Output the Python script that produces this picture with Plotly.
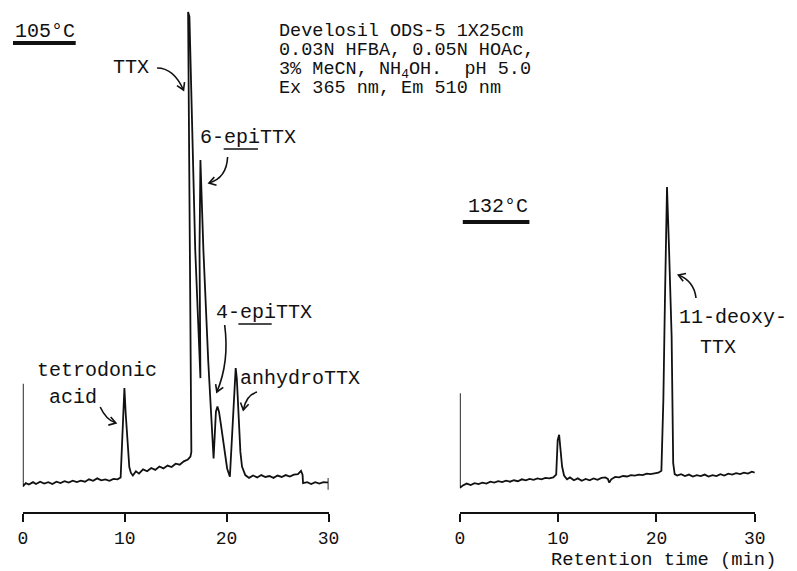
import math
import plotly.graph_objects as go

W, H = 797, 571
OFF = 8  # page body margin compensation (px)

# ---------------- data ----------------
# left run, 105 °C : retention time (min) and detector response (arb. units)
t_105 = [0.0, 0.0, 0.3, 0.6, 1.0, 1.3, 1.7, 2.1, 2.5, 2.9, 3.3, 3.7, 4.1, 4.5, 4.9, 5.3,
         5.7, 6.1, 6.5, 6.9, 7.3, 7.7, 8.1, 8.5, 8.9, 9.3, 9.6, 9.88, 9.97, 10.1, 10.45,
         10.6, 10.8, 11.1, 11.4, 11.8, 12.2, 12.6, 13.0, 13.4, 13.8, 14.2, 14.6, 15.0,
         15.4, 15.8, 16.2, 16.45, 16.54, 16.22, 16.35, 16.92, 17.43, 17.34, 17.43, 17.72,
         18.2, 18.72, 18.8, 18.95, 19.1, 19.25, 19.42, 19.74, 20.05, 20.32, 20.5, 20.7,
         20.89, 21.0, 21.18, 21.35, 21.51, 21.83, 22.2, 22.6, 23.0, 23.4, 23.8, 24.2,
         24.6, 25.0, 25.4, 25.8, 26.2, 26.6, 27.0, 27.3, 27.45, 27.5, 27.9, 28.3, 28.7,
         29.1, 29.5, 30.0, 30.0, 30.0]
s_105 = [21.4, -0.3, 0.4, 0.1, 0.6, 0.2, 0.7, 0.3, 0.6, 0.2, 0.7, 0.4, 0.8, 0.5, 0.9, 0.6,
         0.9, 0.7, 1.2, 0.9, 1.4, 1.0, 1.2, 0.9, 1.3, 1.2, 1.6, 19.0, 20.5, 15.0, 3.8,
         2.6, 2.0, 2.9, 2.4, 3.3, 2.9, 3.6, 3.2, 3.9, 3.5, 4.1, 3.8, 4.5,
         4.3, 5.0, 5.4, 6.0, 7.0, 100.0, 99.0, 49.7, 22.6, 49.7, 68.7, 49.7,
         26.0, 5.6, 9.5, 15.5, 16.6, 15.5, 13.1, 8.1, 3.5, 1.75, 9.0, 20.0,
         24.7, 22.5, 14.4, 7.0, 3.9, 2.1, 1.5, 2.0, 1.6, 2.1, 1.7, 1.9,
         1.5, 2.0, 1.7, 2.1, 1.8, 2.2, 2.3, 3.0, 2.2, 0.4, 0.6, 0.2, 0.6,
         0.3, 0.6, 0.5, 1.5, -1.0]

# right run, 132 °C
t_132 = [0.0, 0.0, 0.3, 0.7, 1.1, 1.5, 1.9, 2.3, 2.7, 3.1, 3.5, 3.9, 4.3, 4.7, 5.1, 5.5,
         5.9, 6.3, 6.7, 7.1, 7.5, 7.9, 8.3, 8.7, 9.1, 9.5, 9.8, 9.95, 10.1, 10.25, 10.4,
         10.6, 10.9, 11.2, 11.6, 12.0, 12.4, 12.8, 13.2, 13.6, 14.0, 14.4, 14.8, 15.05,
         15.2, 15.4, 15.8, 16.2, 16.6, 17.0, 17.4, 17.8, 18.2, 18.6, 19.0, 19.4, 19.8,
         20.2, 20.5, 20.7, 20.86, 21.07, 21.28, 21.54, 21.7, 21.85, 22.1, 22.5, 22.9,
         23.3, 23.7, 24.1, 24.5, 24.9, 25.3, 25.7, 26.1, 26.5, 26.9, 27.3, 27.7, 28.1,
         28.5, 28.9, 29.3, 29.7, 30.0]
s_132 = [19.4, -0.6, -0.1, 0.3, 0.0, 0.4, 0.2, 0.5, 0.3, 0.7, 0.5, 0.8, 0.6, 0.9, 0.7, 1.0,
         0.8, 1.2, 1.0, 1.3, 1.1, 1.4, 1.2, 1.5, 1.4, 1.6, 2.2, 9.5, 10.6, 7.5, 3.9,
         2.0, 1.2, 1.6, 1.0, 1.4, 0.9, 1.3, 1.0, 1.4, 1.1, 1.5, 1.6, 1.3,
         0.5, 1.2, 1.7, 1.6, 1.9, 1.8, 2.1, 2.0, 2.2, 2.1, 2.4, 2.3, 2.5,
         2.6, 3.0, 18.0, 39.0, 63.0, 49.7, 31.4, 4.6, 2.3, 2.0, 2.3, 1.9,
         2.2, 1.8, 2.1, 1.9, 2.2, 1.8, 2.1, 1.9, 2.3, 2.0, 2.4, 2.2, 2.5,
         2.3, 2.6, 2.4, 2.8, 2.6]

x_ticks = [0, 10, 20, 30]
tick_text = ["0", "10", "20", "30"]
x_title = "Retention time (min)"
conditions = ["Develosil ODS-5 1X25cm",
              "0.03N HFBA, 0.05N HOAc,",
              "3% MeCN, NH<sub>4</sub>OH.  pH 5.0",
              "Ex 365 nm, Em 510 nm"]

# ---------------- helpers (target pixel -> paper) ----------------
def px(x):
    return (x - OFF) / W

def py(y):
    return 1 - (y - OFF) / H

FONT = "Liberation Mono, Courier New, monospace"
INK = "#111111"

fig = go.Figure()
fig.add_trace(go.Scatter(x=t_105, y=s_105, mode="lines", xaxis="x", yaxis="y",
                         line=dict(color=INK, width=1.8), hoverinfo="skip", showlegend=False))
fig.add_trace(go.Scatter(x=t_132, y=s_132, mode="lines", xaxis="x2", yaxis="y2",
                         line=dict(color=INK, width=1.8), hoverinfo="skip", showlegend=False))

# vertical geometry: baseline at y=485 px, 0.2114 units per px
scale = 0.2114
axis_px = 512
top_px = OFF
y_lo = (485 - axis_px) * scale
y_hi = (485 - top_px) * scale
ydom = [py(axis_px), py(top_px)]

xcommon = dict(range=[0, 30], tickvals=x_ticks, ticktext=tick_text, showgrid=False,
               zeroline=False, showline=True, linecolor=INK, linewidth=2,
               ticks="outside", ticklen=8, tickwidth=1.5, tickcolor=INK,
               tickfont=dict(family=FONT, size=18, color=INK), fixedrange=True)
ycommon = dict(range=[y_lo, y_hi], domain=ydom, visible=False, fixedrange=True)

fig.update_layout(
    width=W, height=H, margin=dict(l=0, r=0, t=0, b=0),
    paper_bgcolor="white", plot_bgcolor="white",
    xaxis=dict(domain=[px(18), px(330)], anchor="y", **xcommon),
    xaxis2=dict(domain=[px(464), px(765)], anchor="y2", **xcommon),
    yaxis=dict(anchor="x", **ycommon),
    yaxis2=dict(anchor="x2", **ycommon),
    showlegend=False,
)

annots = []
def label(text, x, y, size=20):
    annots.append(dict(text=text, x=px(x), y=py(y), xref="paper", yref="paper",
                       xanchor="left", yanchor="middle", showarrow=False,
                       font=dict(family=FONT, size=size, color=INK), borderpad=0))

label("105°C", 9, 32)
label("TTX", 109, 67)
label("6-epiTTX", 198, 137)
label("4-epiTTX", 214, 312)
label("tetrodonic", 31, 370)
label("acid", 44, 397)
label("anhydroTTX", 239, 378)
label("132°C", 471, 207)
label("11-deoxy-", 687, 317)
label("TTX", 708, 347)
for i, line in enumerate(conditions):
    label(line, 278, 32 + 19 * i, 18.5)
label(x_title, 556, 560, 18.8)

shapes = []
def seg(x0, y0, x1, y1, w):
    shapes.append(dict(type="line", xref="paper", yref="paper",
                       x0=px(x0), y0=py(y0), x1=px(x1), y1=py(y1),
                       line=dict(color=INK, width=w)))

seg(8, 43, 72, 43, 4)       # bar under 105 °C
seg(467, 222, 535, 222, 4)  # bar under 132 °C
seg(223, 149, 258, 149, 1.6)  # underline epi
seg(238, 324, 272, 324, 1.6)

def arrow(p0, c, tip, head=8, ang=32):
    path = "M {:.5f},{:.5f} Q {:.5f},{:.5f} {:.5f},{:.5f}".format(
        px(p0[0]), py(p0[1]), px(c[0]), py(c[1]), px(tip[0]), py(tip[1]))
    shapes.append(dict(type="path", xref="paper", yref="paper", path=path,
                       line=dict(color=INK, width=1.6)))
    dx, dy = tip[0] - c[0], tip[1] - c[1]
    L = math.hypot(dx, dy)
    ux, uy = dx / L, dy / L
    pts = []
    for s in (1, -1):
        a = math.radians(ang) * s
        bx = -(ux * math.cos(a) - uy * math.sin(a))
        by = -(ux * math.sin(a) + uy * math.cos(a))
        pts.append((tip[0] + head * bx, tip[1] + head * by))
    hp = "M {:.5f},{:.5f} L {:.5f},{:.5f} L {:.5f},{:.5f}".format(
        px(pts[0][0]), py(pts[0][1]), px(tip[0]), py(tip[1]), px(pts[1][0]), py(pts[1][1]))
    shapes.append(dict(type="path", xref="paper", yref="paper", path=hp,
                       line=dict(color=INK, width=1.6)))

arrow((155, 68), (172, 68), (182, 90))
arrow((227, 157), (226, 178), (208, 183))
arrow((224, 325), (229, 362), (216, 392))
arrow((97, 407), (103, 420), (113, 423))
arrow((257, 392), (246, 395), (243, 410))
arrow((705, 298), (703, 281), (687, 275))

fig.update_layout(annotations=annots, shapes=shapes)
fig.write_html("out.html")
